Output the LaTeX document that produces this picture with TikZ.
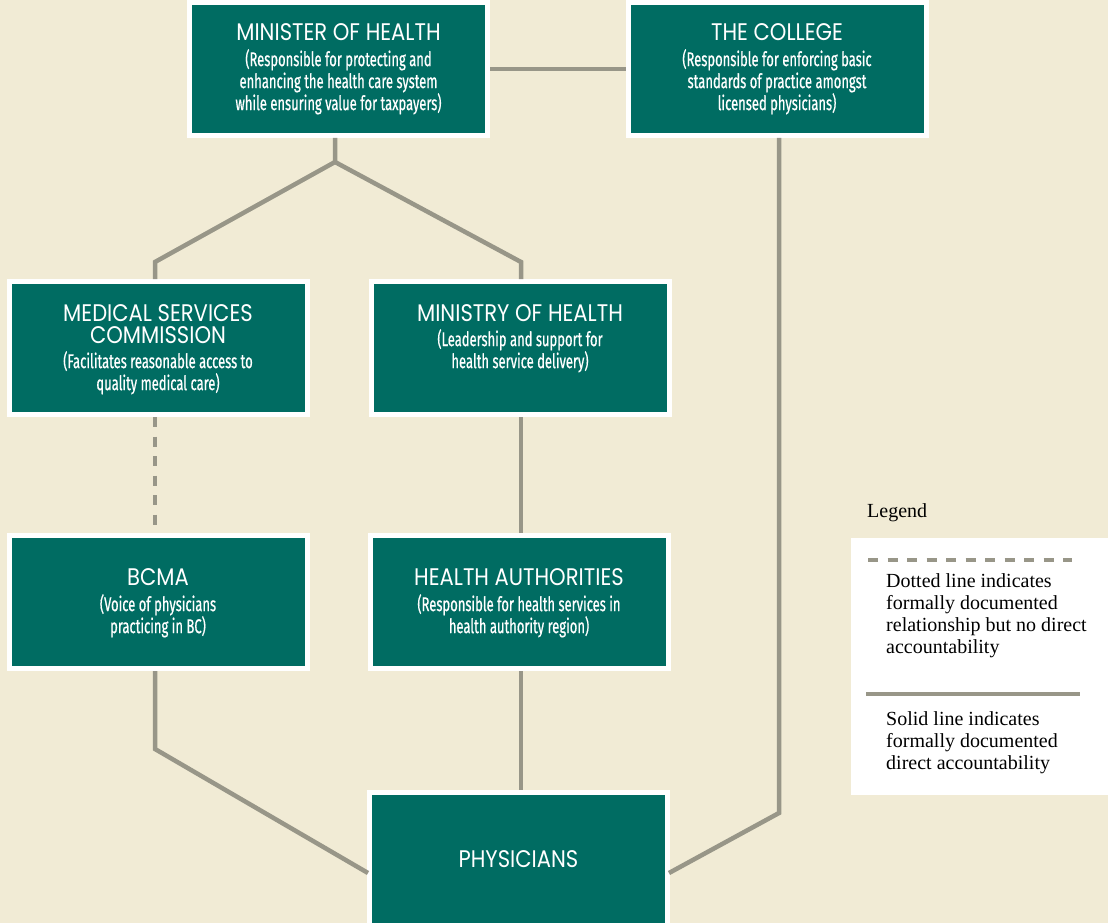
\documentclass[tikz,border=0pt]{standalone}
\usepackage{fontspec}
\usepackage{xcolor}
\usepackage{tikz}
\usetikzlibrary{positioning,calc}
\newfontfamily\headfont[FakeStretch=0.88]{Poppins}
\newfontfamily\notefont[FakeStretch=0.65,FakeBold=0.6]{Fira Sans}
\newfontfamily\legendfont{Liberation Serif}
\definecolor{orgcream}{RGB}{241,235,213}
\definecolor{orgteal}{RGB}{0,108,98}
\definecolor{orggrey}{RGB}{152,150,136}
\newcommand{\boxhead}[1]{{\headfont\fontsize{24}{22}\selectfont #1}}

\begin{document}
\begin{tikzpicture}[
    x=1pt, y=-1pt,
    orgbox/.style={rectangle, fill=orgteal, draw=white, line width=5pt,
                   minimum width=298pt, minimum height=133pt, inner sep=0pt},
    boxtext/.style={text=white, align=center, inner sep=0pt,
                    font=\notefont\fontsize{20}{22}\selectfont},
    link/.style={orggrey, line width=4.5pt},
    dotlink/.style={link, dash pattern=on 10pt off 9.5pt},
    legendtext/.style={font=\legendfont\fontsize{20}{22}\selectfont,
                       align=left, inner sep=0pt, anchor=north west},
  ]
  \useasboundingbox (0,0) rectangle (1108,923);
  \fill[orgcream] (0,0) rectangle (1108,923);

  % Boxes
  \node[orgbox] (minister) at (338.5,69) {};
  \node[boxtext, below=23pt of minister.north] (minister-t)
    {\boxhead{MINISTER OF HEALTH}\\[4pt]
     (Responsible for protecting and\\
     enhancing the health care system\\
     while ensuring value for taxpayers)};

  \node[orgbox] (college) at (777,69) {};
  \node[boxtext, below=23pt of college.north] (college-t)
    {\boxhead{THE COLLEGE}\\[4pt]
     (Responsible for enforcing basic\\
     standards of practice amongst\\
     licensed physicians)};

  \node[orgbox] (msc) at (158,348) {};
  \node[boxtext, below=25pt of msc.north] (msc-t)
    {\boxhead{MEDICAL SERVICES}\\
     \boxhead{COMMISSION}\\[3pt]
     (Facilitates reasonable access to\\
     quality medical care)};

  \node[orgbox] (ministry) at (520,348) {};
  \node[boxtext, below=25pt of ministry.north] (ministry-t)
    {\boxhead{MINISTRY OF HEALTH}\\[3pt]
     (Leadership and support for\\
     health service delivery)};

  \node[orgbox] (bcma) at (158,602) {};
  \node[boxtext, below=35pt of bcma.north] (bcma-t)
    {\boxhead{BCMA}\\[4pt]
     (Voice of physicians\\
     practicing in BC)};

  \node[orgbox] (ha) at (519,602) {};
  \node[boxtext, below=35pt of ha.north] (ha-t)
    {\boxhead{HEALTH AUTHORITIES}\\[4pt]
     (Responsible for health services in\\
     health authority region)};

  \node[orgbox] (physicians) at (518.5,859) {};
  \node[boxtext] (physicians-t) at (physicians) {\boxhead{PHYSICIANS}};

  % Bends
  \coordinate (split) at (335,162);
  \coordinate (lbend) at (155,262);
  \coordinate (rbend) at (521,262);
  \coordinate (bbend) at (155,749);
  \coordinate (cbend) at (779,813);
  \coordinate (pin-l) at (368,873);
  \coordinate (pin-r) at (669,873);

  % Lines
  \draw[link] (minister.east) -- (college.west);
  \draw[link] (minister.south -| split) -- (split) -- (lbend)
    -- (lbend |- msc.north);
  \draw[link] (split) -- (rbend) -- (rbend |- ministry.north);
  \draw[dotlink] (lbend |- msc.south) -- (lbend |- bcma.north);
  \draw[link] (rbend |- ministry.south) -- (rbend |- ha.north);
  \draw[link] (bbend |- bcma.south) -- (bbend) -- (pin-l);
  \draw[link] (rbend |- ha.south) -- (rbend |- physicians.north);
  \draw[link] (cbend |- college.south) -- (cbend) -- (pin-r);

  % Legend
  \node[legendtext, anchor=west] (legend-t) at (867,513) {Legend};
  \node[fill=white, minimum width=257pt, minimum height=257pt,
        inner sep=0pt] (legend) at (979.5,666.5) {};
  \draw[dotlink] (868,560) -- (1072,560);
  \node[legendtext] (legend-dot) at (886,573)
    {Dotted line indicates\\formally documented\\
     relationship but no direct\\accountability};
  \draw[link] (866,694) -- (1080,694);
  \node[legendtext] (legend-solid) at (886,711)
    {Solid line indicates\\formally documented\\direct accountability};
\end{tikzpicture}
\end{document}
